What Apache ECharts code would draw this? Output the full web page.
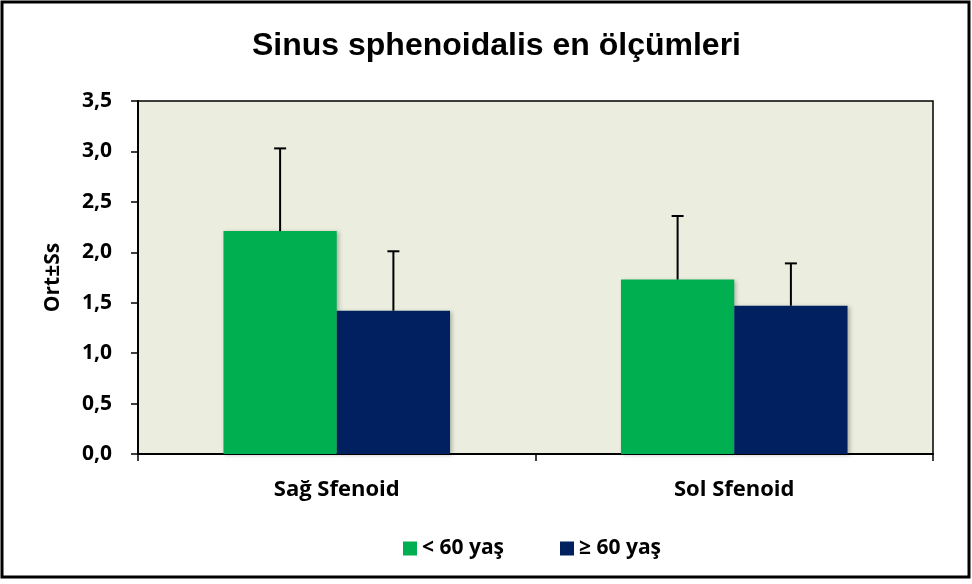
<!DOCTYPE html>
<html>
<head>
<meta charset="utf-8">
<script src="https://cdn.jsdelivr.net/npm/echarts@6/dist/echarts.min.js"></script>
<style>
  html, body { margin: 0; padding: 0; background: #fff; }
  #chart { width: 972px; height: 584px; }
</style>
</head>
<body>
<div id="chart"></div>
<script>
const categories = ["Sağ Sfenoid", "Sol Sfenoid"];
const seriesNames = ["< 60 yaş", "≥ 60 yaş"];
const meansUnder60 = [2.21, 1.73];
const meansOver60 = [1.42, 1.47];
const upperUnder60 = [3.03, 2.36];
const upperOver60 = [2.01, 1.89];
const yTicks = [0, 0.5, 1, 1.5, 2, 2.5, 3, 3.5];

const colors = ["#00B050", "#002060"];
const groupShare = 0.57; // share of category band used by both bars

// error bar drawer, side = -1 left bar, +1 right bar
function errorBar(side) {
  return function (params, api) {
    const cat = api.value(0);
    const top = api.coord([cat, api.value(2)]);
    const base = api.coord([cat, api.value(1)]);
    const band = api.size([1, 0])[0];
    const x = top[0] + side * band * groupShare / 4;
    const style = { stroke: "#000", lineWidth: 2 };
    return {
      type: "group",
      children: [
        { type: "line", shape: { x1: x, y1: base[1], x2: x, y2: top[1] }, style: style },
        { type: "line", shape: { x1: x - 6, y1: top[1], x2: x + 6, y2: top[1] }, style: style }
      ]
    };
  };
}

const labelFont = { fontFamily: "Open Sans", fontWeight: "bold", fontSize: 21, color: "#000" };

const chart = echarts.init(document.getElementById("chart"));
chart.setOption({
  animation: false,
  title: {
    text: "Sinus sphenoidalis en ölçümleri",
    left: 247,
    top: 25,
    textStyle: { fontFamily: "Liberation Sans", fontWeight: "bold", fontSize: 32, color: "#000" }
  },
  legend: {
    data: seriesNames,
    left: 398,
    top: 533,
    icon: "rect",
    itemWidth: 14,
    itemHeight: 14,
    itemGap: 56,
    itemTextGap: 5,
    itemStyle: { borderWidth: 0 },
    textStyle: labelFont
  },
  graphic: [{
    type: "rect",
    shape: { x: 2, y: 2, width: 967, height: 575 },
    style: { fill: "none", stroke: "#000", lineWidth: 3 },
    z: 100
  }],
  grid: {
    left: 138, right: 39, top: 101, bottom: 130,
    show: true, backgroundColor: "#EBEEDE", borderColor: "#000", borderWidth: 1.5
  },
  xAxis: {
    type: "category",
    data: categories,
    axisLine: { lineStyle: { color: "#000", width: 2 } },
    axisTick: { show: true, length: 7, lineStyle: { color: "#000", width: 1.5 } },
    axisLabel: Object.assign({}, labelFont, { margin: 25, fontSize: 22 })
  },
  yAxis: {
    type: "value",
    min: 0, max: 3.5, interval: 0.5,
    name: "Ort±Ss",
    nameLocation: "middle",
    nameGap: 74,
    nameTextStyle: labelFont,
    axisLine: { show: true, lineStyle: { color: "#000", width: 2 } },
    axisTick: { show: true, length: 7, lineStyle: { color: "#000", width: 1.5 } },
    splitLine: { show: false },
    axisLabel: Object.assign({
      margin: 26,
      formatter: v => yTicks.includes(v) ? v.toFixed(1).replace(".", ",") : ""
    }, labelFont)
  },
  series: [
    {
      name: seriesNames[0], type: "bar", data: meansUnder60,
      barGap: "0%", barCategoryGap: "43%",
      itemStyle: { color: colors[0], shadowBlur: 4, shadowColor: "rgba(0,0,0,0.25)", shadowOffsetX: 2, shadowOffsetY: 1 }
    },
    {
      name: seriesNames[1], type: "bar", data: meansOver60,
      itemStyle: { color: colors[1], shadowBlur: 4, shadowColor: "rgba(0,0,0,0.25)", shadowOffsetX: 2, shadowOffsetY: 1 }
    },
    {
      type: "custom", renderItem: errorBar(-1), z: 5,
      data: categories.map((c, i) => [i, meansUnder60[i], upperUnder60[i]])
    },
    {
      type: "custom", renderItem: errorBar(1), z: 5,
      data: categories.map((c, i) => [i, meansOver60[i], upperOver60[i]])
    }
  ]
});
</script>
</body>
</html>
